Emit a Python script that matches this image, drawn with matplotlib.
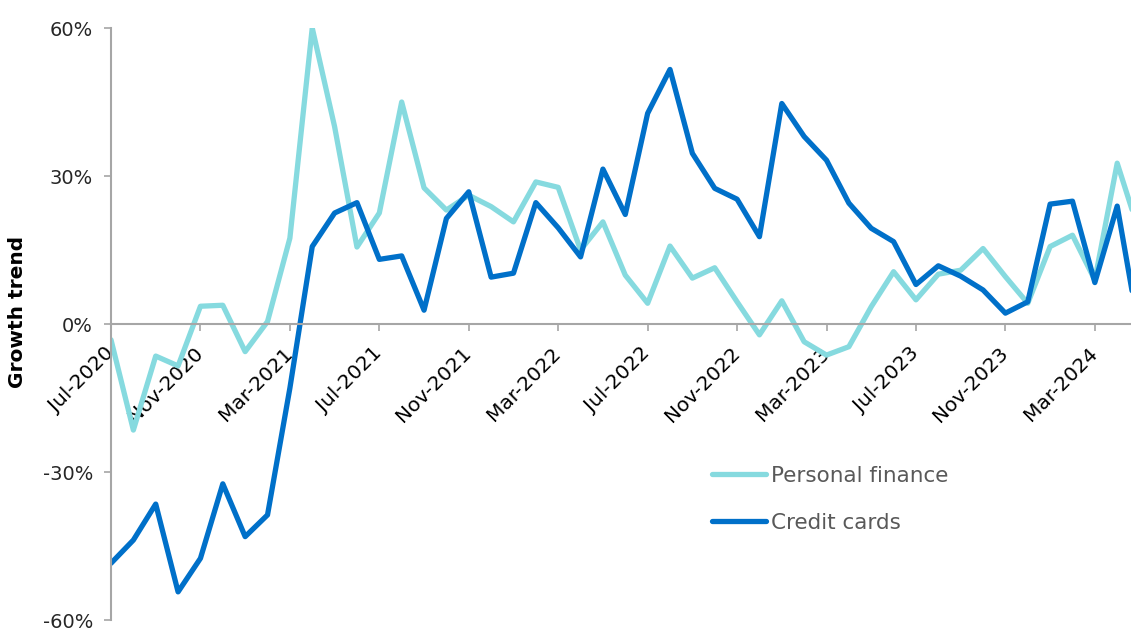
"""Monthly growth trend: personal finance vs credit cards."""

import matplotlib

matplotlib.use("Agg")
import matplotlib.pyplot as plt
import matplotlib.transforms as mtransforms
import pandas as pd
from matplotlib.ticker import FuncFormatter, MultipleLocator

months = pd.date_range("2020-07-01", periods=47, freq="MS")

personal_finance = [
    -3.2, -21.5, -6.5, -8.5, 3.6, 3.8, -5.6, 0.5, 17.4, 60.0, 40.0, 15.6,
    22.5, 45.0, 27.6, 23.1, 26.1, 23.8, 20.7, 28.8, 27.7, 15.0, 20.7, 9.9,
    4.2, 15.8, 9.3, 11.4, 4.5, -2.2, 4.7, -3.6, -6.3, -4.6, 3.5, 10.6,
    4.9, 10.1, 10.9, 15.3, 9.6, 4.2, 15.7, 18.0, 8.9, 32.6, 18.4,
]
credit_cards = [
    -48.5, -43.8, -36.5, -54.3, -47.5, -32.4, -43.1, -38.7, -13.0, 15.7, 22.5, 24.6,
    13.1, 13.8, 2.8, 21.4, 26.8, 9.5, 10.3, 24.6, 19.5, 13.6, 31.4, 22.2,
    42.7, 51.6, 34.6, 27.5, 25.3, 17.7, 44.7, 38.0, 33.2, 24.5, 19.4, 16.7,
    8.0, 11.8, 9.7, 6.9, 2.2, 4.5, 24.3, 24.9, 8.4, 23.9, -2.0,
]

PF_COLOR = "#86dadf"
CC_COLOR = "#0070c9"
AXIS_GREY = "#a6a6a6"

plt.rcParams["font.family"] = ["DejaVu Sans"]

W, H = 1131, 630
fig = plt.figure(figsize=(W / 100, H / 100), dpi=100)
ax = fig.add_axes([111 / W, 10 / H, (W - 111) / W, 592 / H])

x = list(range(len(months)))
ax.plot(x, personal_finance, color=PF_COLOR, lw=3.8, solid_joinstyle="round",
        solid_capstyle="round", label="Personal finance")
ax.plot(x, credit_cards, color=CC_COLOR, lw=3.8, solid_joinstyle="round",
        solid_capstyle="round", label="Credit cards")

ax.set_xlim(0, (W - 111) / 22.36)
ax.set_ylim(-60, 60)

# y axis
ax.yaxis.set_major_locator(MultipleLocator(30))
ax.yaxis.set_major_formatter(FuncFormatter(lambda v, _: f"{v:.0f}%"))
ax.tick_params(axis="y", direction="out", length=5, width=1.2, color=AXIS_GREY,
               pad=8, labelsize=14, labelcolor="#262626")

# x axis sits on the zero line, labelled every four months
ax.spines["bottom"].set_position(("data", 0))
tick_pos = x[::4]
ax.set_xticks(tick_pos)
ax.set_xticklabels([months[i].strftime("%b-%Y") for i in tick_pos])
ax.tick_params(axis="x", direction="out", length=5, width=1.2, color=AXIS_GREY,
               pad=9, labelsize=14.5, labelcolor="#000000")
offset = mtransforms.ScaledTranslation(-5 / 72, 0, fig.dpi_scale_trans)
for lbl in ax.get_xticklabels():
    lbl.set_rotation(45)
    lbl.set_ha("right")
    lbl.set_va("top")
    lbl.set_rotation_mode("anchor")
    lbl.set_transform(lbl.get_transform() + offset)

for side in ("top", "right"):
    ax.spines[side].set_visible(False)
for side in ("left", "bottom"):
    ax.spines[side].set_color(AXIS_GREY)
    ax.spines[side].set_linewidth(1.5)

fig.text(18 / W, 1 - 312 / H, "Growth trend", rotation=90, ha="center",
         va="center", fontsize=14.5, fontweight="bold", color="#000000")

leg = ax.legend(loc="upper left", bbox_to_anchor=(712 / W, 1 - 466 / H),
                bbox_transform=fig.transFigure, frameon=False, fontsize=15.5,
                handlelength=2.5, handletextpad=0.25, labelspacing=1.25,
                borderpad=0, borderaxespad=0)
for text in leg.get_texts():
    text.set_color("#595959")

fig.savefig("out.png", dpi=100)
